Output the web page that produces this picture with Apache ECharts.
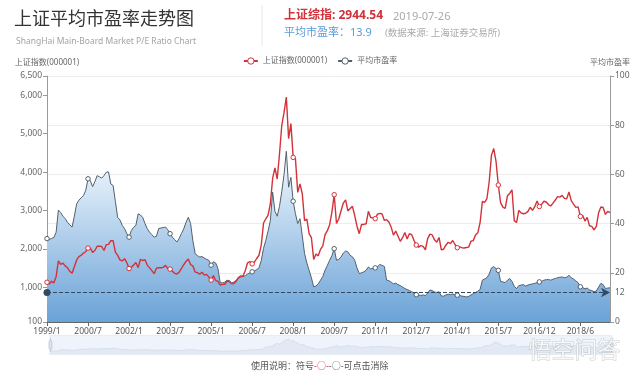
<!DOCTYPE html>
<html>
<head>
<meta charset="utf-8">
<script src="https://cdn.jsdelivr.net/npm/echarts@6/dist/echarts.min.js"></script>
<style>
  html, body { margin: 0; padding: 0; background: #fff; }
  #chart { width: 640px; height: 378px; }
</style>
</head>
<body>
<div id="chart"></div>
<script>
// Monthly categories 1999/1 .. 2019/7 (the source has one extra point in 2015/8)
const months = []
for (let y = 1999; y <= 2019; y++) {
  for (let m = 1; m <= 12; m++) {
    if (y === 2019 && m > 7) break
    months.push(y + '/' + m)
    if (y === 2015 && m === 8) months.push('2015/8/31')
  }
}

// Shanghai composite (000001)
const sseIndex = [
  1134, 1090, 1158, 1120, 1280, 1690, 1600, 1630, 1560, 1510, 1420, 1367, // 1999
  1535, 1715, 1800, 1836, 1894, 1928, 2023, 2021, 1910, 1961, 2070, 2073, // 2000
  2065, 1960, 2112, 2119, 2214, 2218, 1920, 1834, 1717, 1690, 1748, 1646, // 2001
  1490, 1525, 1580, 1646, 1515, 1732, 1700, 1722, 1581, 1507, 1436, 1357, // 2002
  1500, 1512, 1510, 1521, 1576, 1487, 1476, 1421, 1367, 1348, 1397, 1497, // 2003
  1590, 1675, 1741, 1595, 1555, 1399, 1386, 1342, 1396, 1320, 1340, 1266, // 2004
  1191, 1306, 1181, 1159, 1060, 1080, 1083, 1162, 1155, 1092, 1099, 1161, // 2005
  1258, 1299, 1298, 1440, 1641, 1672, 1612, 1658, 1752, 1837, 2099, 2675, // 2006
  2786, 2881, 3183, 3841, 4109, 3820, 4471, 5218, 5552, 5954, 4871, 5261, // 2007
  4383, 4348, 3472, 3693, 3433, 2736, 2775, 2397, 2293, 1728, 1871, 1820, // 2008
  1990, 2082, 2373, 2477, 2632, 2959, 3412, 2667, 2779, 2995, 3195, 3277, // 2009
  2989, 3051, 3109, 2870, 2592, 2398, 2638, 2638, 2655, 2979, 2820, 2808, // 2010
  2790, 2905, 2928, 2911, 2743, 2762, 2701, 2567, 2359, 2468, 2333, 2199, // 2011
  2292, 2428, 2262, 2396, 2372, 2225, 2103, 2047, 2086, 2069, 1980, 2269, // 2012
  2385, 2365, 2237, 2177, 2300, 1979, 1994, 2098, 2175, 2141, 2220, 2116, // 2013
  2033, 2056, 2033, 2026, 2039, 2048, 2202, 2217, 2364, 2420, 2683, 3235, // 2014
  3210, 3310, 3748, 4441, 4612, 4277, 3664, 3206, 3090, 3053, 3383, 3445, 3539, // 2015
  2738, 2688, 3004, 2938, 2917, 2930, 2979, 3085, 3005, 3100, 3250, 3104, // 2016
  3159, 3242, 3223, 3155, 3117, 3192, 3273, 3361, 3349, 3393, 3317, 3307, // 2017
  3481, 3259, 3169, 3082, 3095, 2847, 2876, 2725, 2821, 2603, 2588, 2494, // 2018
  2585, 2941, 3091, 3078, 2899, 2979, 2945 // 2019
]

// average P/E
const avgPE = [
  33.9, 33.5, 34.0, 34.3, 36.5, 45.5, 44.5, 43.0, 42.0, 40.5, 39.5, 38.6, // 1999
  43.0, 48.0, 49.5, 50.5, 51.4, 53.5, 58.2, 57.5, 55.0, 57.0, 59.5, 59.0, // 2000
  58.5, 59.5, 60.9, 61.0, 56.1, 55.5, 49.0, 42.5, 41.5, 39.3, 38.0, 36.0, // 2001
  34.5, 37.2, 38.5, 39.3, 44.0, 43.5, 42.5, 40.0, 37.9, 36.5, 35.5, 34.5, // 2002
  34.8, 38.0, 38.2, 38.4, 38.6, 37.5, 35.9, 34.5, 33.5, 32.5, 34.0, 36.0, // 2003
  37.9, 40.5, 42.6, 40.0, 33.0, 27.8, 27.0, 26.4, 26.6, 26.0, 25.5, 25.1, // 2004
  23.1, 24.5, 24.0, 21.7, 16.0, 15.9, 16.2, 17.0, 16.8, 15.9, 16.2, 17.0, // 2005
  17.8, 18.3, 18.5, 18.8, 19.5, 20.0, 20.4, 20.8, 21.3, 22.0, 25.0, 30.0, // 2006
  33.2, 37.0, 41.3, 52.8, 45.0, 43.0, 47.0, 53.0, 60.0, 69.4, 54.8, 58.8, // 2007
  49.1, 44.0, 40.0, 42.0, 35.0, 27.8, 24.0, 21.0, 18.0, 14.3, 14.6, 15.5, // 2008
  17.0, 18.5, 21.1, 23.0, 25.1, 27.0, 29.8, 25.1, 25.5, 26.4, 28.0, 28.9, // 2009
  28.5, 27.1, 26.5, 25.1, 22.0, 19.7, 20.0, 20.4, 21.0, 22.4, 21.6, 21.8, // 2010
  22.0, 22.5, 23.4, 23.0, 22.6, 17.0, 16.8, 16.2, 15.5, 15.8, 15.2, 14.8, // 2011
  14.2, 13.6, 13.2, 12.8, 12.3, 11.8, 11.1, 11.0, 10.8, 11.0, 10.7, 11.8, // 2012
  13.0, 12.8, 12.2, 12.0, 12.3, 10.6, 10.5, 11.0, 11.3, 11.1, 11.4, 11.0, // 2013
  10.9, 10.8, 10.5, 10.4, 10.2, 10.4, 11.0, 11.5, 12.0, 12.5, 13.2, 17.0, // 2014
  17.5, 18.0, 19.5, 22.0, 22.5, 21.7, 21.0, 16.5, 16.3, 16.0, 17.0, 17.7, 16.5, // 2015
  14.5, 13.6, 14.8, 15.0, 15.2, 14.6, 15.0, 15.3, 15.5, 15.7, 16.0, 16.3, // 2016
  16.5, 17.0, 17.2, 17.3, 17.0, 17.4, 17.7, 18.0, 18.2, 18.3, 18.0, 18.2, // 2017
  19.0, 18.0, 17.5, 16.7, 16.0, 14.3, 14.0, 13.5, 13.8, 13.0, 12.8, 12.3, // 2018
  12.6, 14.2, 15.7, 15.2, 13.6, 13.8, 13.9 // 2019
]

const leftTicks = [100, 1000, 2000, 3000, 4000, 5000, 6000, 6500]
const peMarkValue = 12

const COLOR_SSE = '#d2323a'
const COLOR_PE = '#52606c'
const FONT = '"Noto Sans", "Noto Sans CJK SC", sans-serif'

const chart = echarts.init(document.getElementById('chart'))

chart.setOption({
  animation: false,
  textStyle: { fontFamily: FONT },
  title: [
    {
      text: '上证平均市盈率走势图',
      left: 9,
      top: 6,
      textStyle: { fontSize: 18, fontWeight: 'normal', color: '#333', fontFamily: FONT },
    },
    {
      text: 'ShangHai Main-Board Market P/E Ratio Chart',
      left: 11,
      top: 32,
      textStyle: { fontSize: 8.5, fontWeight: 'normal', color: '#a3a3a3', fontFamily: FONT },
    },
  ],
  graphic: [
    { type: 'line', shape: { x1: 262, y1: 5, x2: 262, y2: 46 }, style: { stroke: '#e8e8e8', lineWidth: 1 } },
    { type: 'text', left: 284, top: 10, style: { text: '上证综指: 2944.54', fill: COLOR_SSE, font: 'bold 12px ' + FONT } },
    { type: 'text', left: 393, top: 11, style: { text: '2019-07-26', fill: '#aaa', font: '11px ' + FONT } },
    { type: 'text', left: 284, top: 27, style: { text: '平均市盈率：13.9', fill: '#5b9bd5', font: '11px ' + FONT } },
    { type: 'text', left: 385, top: 29, style: { text: '(数据来源: 上海证券交易所)', fill: '#aaa', font: '9.5px ' + FONT } },
    {
      type: 'text',
      left: 251,
      top: 362,
      style: {
        text: '{t|使用说明：符号}{r|-○-}{d|-○-}{t|可点击消除}',
        rich: {
          t: { fill: '#555', font: '9px ' + FONT },
          r: { fill: COLOR_SSE, font: '9px ' + FONT },
          d: { fill: COLOR_PE, font: '9px ' + FONT },
        },
      },
    },
    // host watermark in the lower right corner
    {
      type: 'text',
      left: 528,
      top: 337,
      z: 100,
      style: {
        text: '悟空问答',
        fill: 'rgba(255,255,255,0.8)',
        stroke: 'rgba(160,160,160,0.5)',
        lineWidth: 1,
        font: '23px "Noto Sans CJK SC", sans-serif',
      },
    },
  ],
  legend: {
    top: 52,
    left: 'center',
    itemWidth: 14,
    itemHeight: 8,
    itemGap: 10,
    itemStyle: { color: '#fff', borderWidth: 1 },
    textStyle: { fontSize: 8, color: '#666' },
    data: ['上证指数(000001)', '平均市盈率'],
  },
  grid: { left: 47, right: 30, top: 76, bottom: 56 },
  xAxis: {
    type: 'category',
    boundaryGap: false,
    data: months,
    axisLine: { lineStyle: { color: '#666' } },
    axisTick: { interval: 17, length: 4, lineStyle: { color: '#666' } },
    axisLabel: { interval: 17, fontSize: 8.5, color: '#555', margin: 5 },
  },
  yAxis: [
    {
      type: 'value',
      name: '上证指数(000001)',
      nameGap: 9,
      nameTextStyle: { fontSize: 8, color: '#666' },
      min: 100,
      max: 6500,
      axisLine: { show: true, lineStyle: { color: '#999' } },
      axisTick: { show: true, length: 4, customValues: leftTicks, lineStyle: { color: '#999' } },
      axisLabel: {
        customValues: leftTicks,
        fontSize: 8.5,
        color: '#666',
        margin: 5,
        formatter: (v) => v.toLocaleString('en-US'),
      },
      splitLine: { show: false },
    },
    {
      type: 'value',
      name: '平均市盈率',
      nameGap: 9,
      nameTextStyle: { fontSize: 8, color: '#666' },
      min: 0,
      max: 100,
      interval: 20,
      axisLine: { show: true, lineStyle: { color: '#999' } },
      axisTick: { show: true, length: 4, lineStyle: { color: '#999' } },
      axisLabel: { fontSize: 8.5, color: '#666', margin: 5 },
      splitLine: { show: true, lineStyle: { color: '#ececec' } },
    },
  ],
  dataZoom: [
    {
      type: 'slider',
      xAxisIndex: 0,
      left: 47,
      right: 30,
      bottom: 23,
      height: 20,
      start: 0,
      end: 100,
      showDetail: false,
      brushSelect: false,
      moveHandleSize: 0,
      backgroundColor: '#f4f8fd',
      borderColor: '#e6edf5',
      fillerColor: 'rgba(225,236,248,0.35)',
      handleSize: '70%',
      handleStyle: { color: '#dde4ee', borderColor: '#c2ccd8' },
      dataBackground: {
        lineStyle: { color: '#cdd8e6', width: 1 },
        areaStyle: { color: '#e2e9f2', opacity: 1 },
      },
      selectedDataBackground: {
        lineStyle: { color: '#cdd8e6', width: 1 },
        areaStyle: { color: '#e2e9f2', opacity: 1 },
      },
    },
  ],
  series: [
    {
      name: '上证指数(000001)',
      type: 'line',
      yAxisIndex: 0,
      data: sseIndex,
      symbol: 'circle',
      symbolSize: 4.5,
      itemStyle: { color: '#fff', borderColor: COLOR_SSE, borderWidth: 1 },
      lineStyle: { color: COLOR_SSE, width: 1.4 },
      z: 4,
    },
    {
      name: '平均市盈率',
      type: 'line',
      yAxisIndex: 1,
      data: avgPE,
      symbol: 'circle',
      symbolSize: 4.5,
      itemStyle: { color: '#fff', borderColor: COLOR_PE, borderWidth: 1 },
      lineStyle: { color: COLOR_PE, width: 1 },
      areaStyle: {
        opacity: 1,
        color: new echarts.graphic.LinearGradient(0, 0, 0, 1, [
          { offset: 0, color: '#f6fbff' },
          { offset: 1, color: '#6aa2d7' },
        ]),
      },
      markLine: {
        silent: true,
        symbol: ['circle', 'arrow'],
        symbolSize: [7, 9],
        itemStyle: { color: '#2f4a62' },
        lineStyle: { color: '#2f4a62', type: 'dashed', width: 1 },
        label: { color: '#666', fontSize: 8.5, formatter: '{c}' },
        data: [{ yAxis: peMarkValue }],
      },
      z: 3,
    },
  ],
})
</script>
</body>
</html>
